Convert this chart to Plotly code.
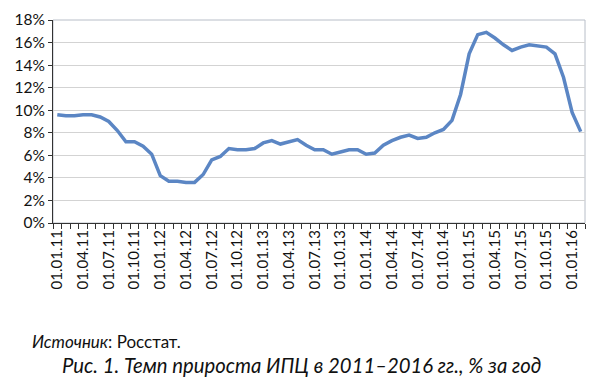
import plotly.graph_objects as go

# Monthly CPI growth, % y/y, Jan 2011 .. Feb 2016
months = []
for yr in range(11, 17):
    for m in range(1, 13):
        months.append(f"01.{m:02d}.{yr}")
months = months[:62]

cpi = [
    9.6, 9.5, 9.5, 9.6, 9.6, 9.4, 9.0, 8.2, 7.2, 7.2, 6.8, 6.1,
    4.2, 3.7, 3.7, 3.6, 3.6, 4.3, 5.6, 5.9, 6.6, 6.5, 6.5, 6.6,
    7.1, 7.3, 7.0, 7.2, 7.4, 6.9, 6.5, 6.5, 6.1, 6.3, 6.5, 6.5,
    6.1, 6.2, 6.9, 7.3, 7.6, 7.8, 7.5, 7.6, 8.0, 8.3, 9.1, 11.4,
    15.0, 16.7, 16.9, 16.4, 15.8, 15.3, 15.6, 15.8, 15.7, 15.6, 15.0, 12.9,
    9.8, 8.1,
]
cpi_frac = [v / 100 for v in cpi]

label_idx = list(range(0, len(months), 3))
label_text = [months[i] for i in label_idx]

y_ticks = [i / 100 for i in range(0, 19, 2)]
y_text = [f"{i}%" for i in range(0, 19, 2)]

FONT = "Lato, 'Open Sans', sans-serif"
TXT = "#111111"

fig = go.Figure()
fig.add_trace(go.Scatter(
    x=list(range(len(cpi_frac))), y=cpi_frac, mode="lines",
    line=dict(color="#5B86C4", width=3.5, shape="linear"),
    hoverinfo="skip", showlegend=False,
))

fig.update_layout(
    width=595, height=386,
    margin=dict(l=53, r=10, t=15, b=163),
    paper_bgcolor="white", plot_bgcolor="white",
    font=dict(family=FONT, color=TXT),
    xaxis=dict(
        range=[-0.5, len(cpi_frac) - 0.5],
        tickmode="array", tickvals=label_idx, ticktext=label_text,
        tickangle=-90, tickfont=dict(size=15, family=FONT, color=TXT),
        ticks="", showgrid=False, zeroline=False,
        showline=True, linecolor="#333333", linewidth=1.2,
        minor=dict(ticks="outside", ticklen=5, tickmode="linear", tick0=-0.5, dtick=1,
                   tickcolor="#333333", tickwidth=1, showgrid=False),
        mirror=False,
    ),
    yaxis=dict(
        range=[0, 0.18],
        tickmode="array", tickvals=y_ticks, ticktext=y_text,
        tickfont=dict(size=15.5, family=FONT, color=TXT),
        ticks="outside", ticklen=4, tickcolor="#333333",
        showgrid=True, gridcolor="#D3D3D3", gridwidth=1.2,
        zeroline=False, showline=True, linecolor="#333333", linewidth=1,
    ),
    shapes=[dict(type="rect", xref="paper", yref="paper", x0=0, x1=1, y0=0, y1=1,
                 line=dict(color="#B8BEC8", width=1), layer="below")],
    annotations=[
        dict(text="<i>Источник</i>: Росстат.", xref="paper", yref="paper",
             x=(30 - 53) / 532, y=-(344 - 223) / 208, xanchor="left", yanchor="middle",
             showarrow=False, font=dict(size=17, family=FONT, color=TXT)),
        dict(text="<i>Рис. 1. Темп прироста ИПЦ в 2011–2016 гг., % за год</i>",
             xref="paper", yref="paper",
             x=(301 - 53) / 532, y=-(368 - 223) / 208, xanchor="center", yanchor="middle",
             showarrow=False, font=dict(size=20.3, family=FONT, color=TXT)),
    ],
)

fig.write_html("out.html", config={"displayModeBar": False},
               post_script="document.body.style.margin='0';document.body.style.padding='0';")
